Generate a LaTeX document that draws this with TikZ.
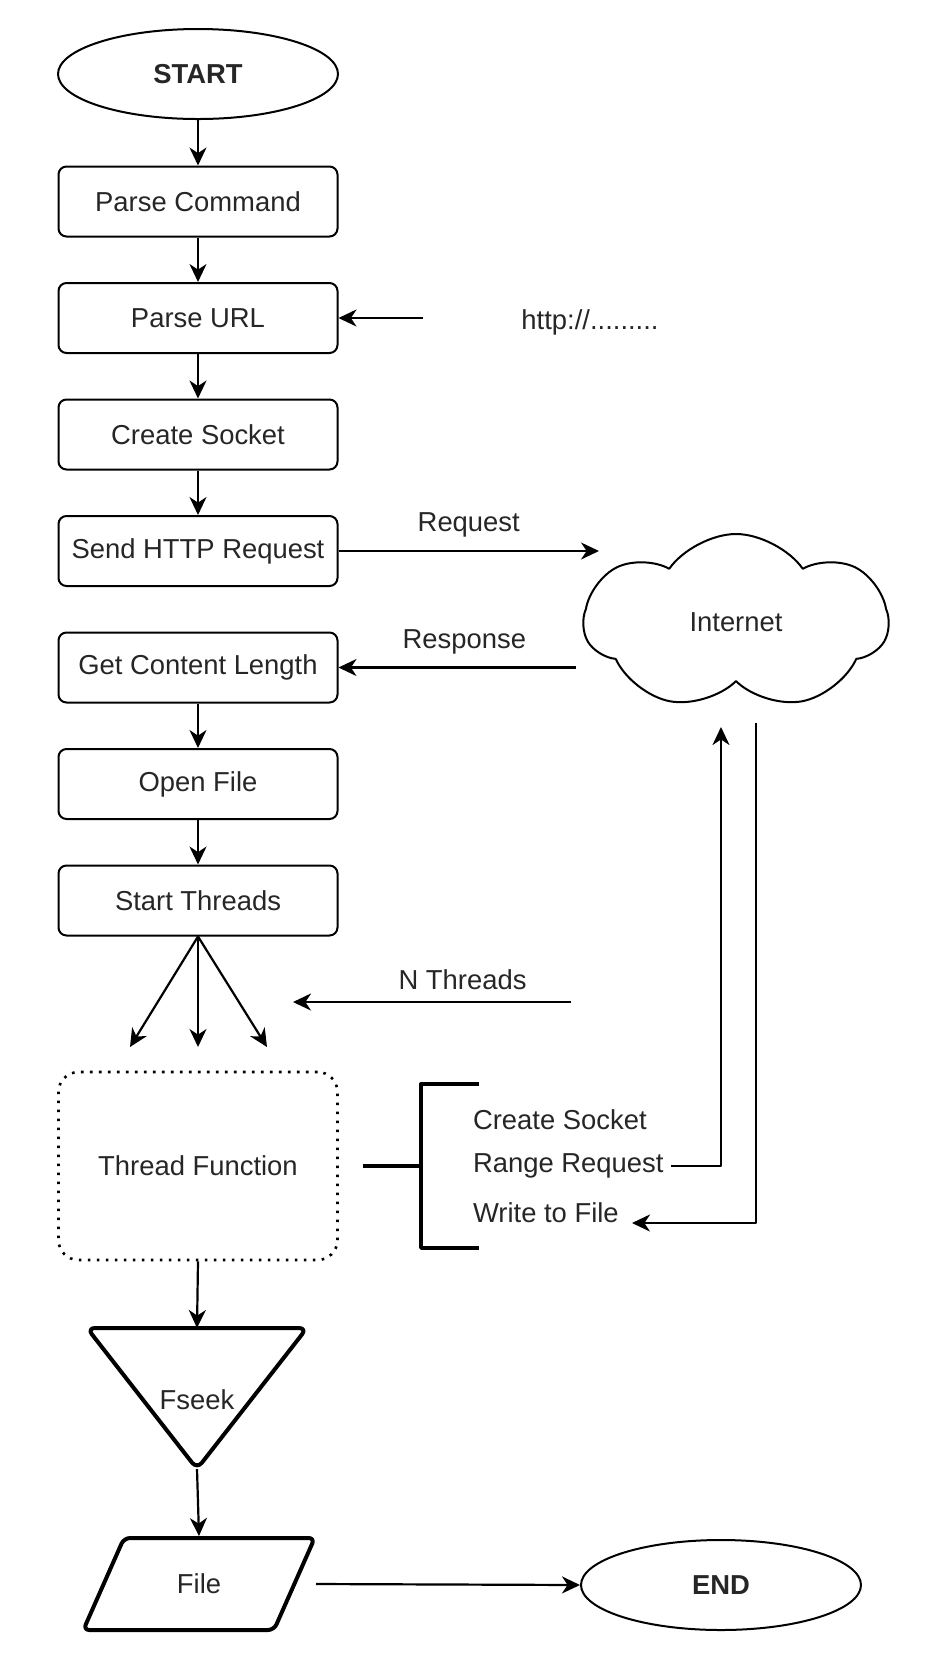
\documentclass[tikz,border=0pt]{standalone}
\usepackage{fontspec}
\setmainfont{Liberation Sans}
\usetikzlibrary{arrows.meta,shapes.geometric,shapes.symbols}

\begin{document}
\begin{tikzpicture}[x=0.5pt, y=-0.5pt, line join=round,
    every node/.style={font=\fontsize{13.7}{16}\selectfont, text=black!85},
    box/.style={draw, rounded corners=4pt, line width=1pt, minimum width=139.5pt, minimum height=35pt},
    term/.style={draw, ellipse, line width=1pt, minimum width=140pt, minimum height=45pt, font=\fontsize{13.7}{16}\selectfont\bfseries},
    arr/.style={-{Stealth[length=9pt, width=8.5pt, inset=2.8pt]}, line width=1.1pt}]
    \useasboundingbox (0,0) rectangle (930,1662);
    % main column
    \node[term] (start) at (198,74) {START};
    \node[box] (cmd) at (198,201.5) {Parse Command};
    \node[box] (url) at (198,318) {Parse URL};
    \node[box] (sock) at (198,434.5) {Create Socket};
    \node[box] (send) at (198,551) {Send HTTP Request};
    \node[box] (len) at (198,667.5) {Get Content Length};
    \node[box] (open) at (198,784) {Open File};
    \node[box] (thr) at (198,900.5) {Start Threads};
    \node[draw, line width=1.3pt, dash pattern=on 1.3pt off 3.2pt, rounded corners=10pt,
        minimum width=139.5pt, minimum height=94pt] (func) at (198,1166) {Thread Function};
    \node[draw, cloud, cloud puffs=7, cloud puff arc=110, cloud ignores aspect, line width=1pt,
        minimum width=152pt, minimum height=88pt] (net) at (736,622) {Internet};
    \node[term] (end) at (721,1585) {END};
    \node[draw, trapezium, trapezium left angle=65, trapezium right angle=115, trapezium stretches=true,
        line width=2pt, rounded corners=3pt, minimum width=116pt, minimum height=46pt] (file) at (199,1584) {File};
    \node (fseek) at (197,1400) {Fseek};
    \node (http) at (590,322) {http://.........};
    \coordinate (fstop) at (197,1328);
    \coordinate (fsbot) at (197,1469);
    \draw[line width=2pt, rounded corners=4pt] (87,1328) -- (307,1328) -- (fsbot) -- cycle;

    \foreach \a/\b in {start/cmd, cmd/url, url/sock, sock/send, len/open, open/thr}
        \draw[arr] (\a) -- (\b);
    \foreach \i/\x in {1/130, 2/198, 3/267} {
        \coordinate (fan\i) at (\x,1047);
        \draw[arr] (thr.south) -- (fan\i);
    }

    % side arrows
    \coordinate (urlsrc) at (423,318);
    \draw[arr] (urlsrc) -- (url.east);
    \coordinate (reqend) at (599,551);
    \draw[arr] (send.east) -- (reqend) node[midway, above=3pt] {Request};
    \coordinate (respsrc) at (576,667.5);
    \draw[arr] (respsrc) -- (len.east) node[pos=0.47, above=3pt] {Response};
    \coordinate (nsrc) at (571,1002);
    \coordinate (ndst) at (293,1002);
    \draw[arr] (nsrc) -- (ndst) node[pos=0.39, above=2pt] {N Threads};

    % thread function parts
    \draw[line width=1.7pt] (363,1166) -- (421,1166) (479,1084) -- (421,1084) -- (421,1248) -- (479,1248);
    \node[anchor=west] (csock) at (466,1120) {Create Socket};
    \node[anchor=west] (range) at (466,1166) {Range Request};
    \node[anchor=west] (write) at (466,1213) {Write to File};
    \coordinate (netin) at (721,727);
    \coordinate (netout) at (756,723);
    \coordinate (writein) at (632,1223);
    \draw[arr] (range.east) -| (netin);
    \draw[arr] (netout) |- (writein);

    % bottom
    \draw[arr] (func.south) -- (fstop);
    \draw[arr] (fsbot) -- (file.north);
    \coordinate (fileout) at (316,1584);
    \draw[arr] (fileout) -- (end.west);
\end{tikzpicture}
\end{document}
